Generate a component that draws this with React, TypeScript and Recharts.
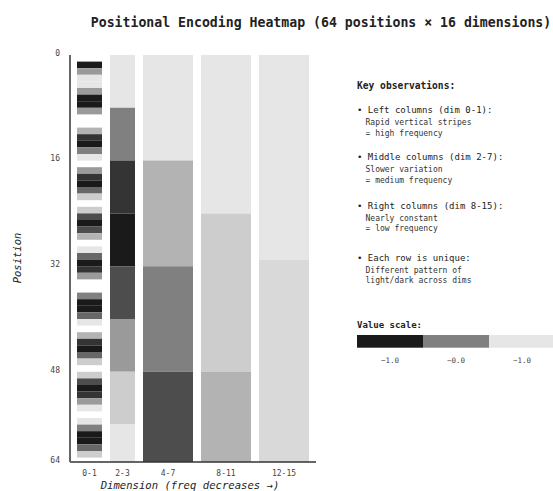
import React from 'react';
import { ComposedChart, XAxis, YAxis, ReferenceArea, Customized } from 'recharts';

const FONT = '"DejaVu Sans Mono", "Liberation Mono", monospace';

// Column categories (dimension groups)
const columnLabels = ['0-1', '2-3', '4-7', '8-11', '12-15'];
const columnDimStart = [0, 2, 4, 8, 12];
const columnDimCount = [2, 2, 4, 4, 4];

// Dim 0-1: one value per position (null = blank/white row)
const dim01Values: (number | null)[] = [
  null, -1, 0.25, 1, 1, 0.25, -1, -1, 0.25, null,
  null, 0.5, -0.75, -1, 0, 1, null, 0.25, -0.75, -1,
  -0.25, 0.75, null, 0.75, -0.5, -1, -0.5, 0.5, null, 1,
  -0.25, -1, -0.75, 0.25, null, null, 0, -1, -1, -0.25,
  1, null, 0.5, -0.75, -1, -0.25, 0.75, null, 0.75, -0.5,
  -1, -0.75, 0.25, 1, null, 1, 0, -1, -1, -0.25,
  0.75, null, null, null,
];

// Other dims: piecewise-constant blocks along position
const dim23Breaks = [0, 8, 16, 24, 32, 40, 48, 56, 64];
const dim23Values = [1, 0, -0.75, -1, -0.5, 0.25, 0.75, 1];
const dim47Breaks = [0, 16, 32, 48, 64];
const dim47Values = [1, 0.5, 0, -0.5];
const dim811Breaks = [0, 24, 48, 64];
const dim811Values = [1, 0.75, 0.5];
const dim1215Breaks = [0, 31, 64];
const dim1215Values = [1, 0.875];

const yTickLabels = [0, 16, 32, 48, 64];
const scaleValues = [-1, 0, 1];
const scaleLabels = ['−1.0', '~0.0', '~1.0'];

const notes: { head: string; lines: string[] }[] = [
  { head: '• Left columns (dim 0-1):', lines: ['Rapid vertical stripes', '= high frequency'] },
  { head: '• Middle columns (dim 2-7):', lines: ['Slower variation', '= medium frequency'] },
  { head: '• Right columns (dim 8-15):', lines: ['Nearly constant', '= low frequency'] },
  { head: '• Each row is unique:', lines: ['Different pattern of', 'light/dark across dims'] },
];

// ---- layout constants (not data) ----
const LEAD = 0.56;
const GAP = 0.64;
const XMAX = 19.68;
const YMAX = 61.67;

const gray = (v: number) => {
  const g = Math.round(128 + v * 102);
  return `rgb(${g},${g},${g})`;
};

const colStart = (c: number) => LEAD + columnDimStart[c] + c * GAP;
const colEnd = (c: number) => colStart(c) + columnDimCount[c];

type Cell = { x1: number; x2: number; y1: number; y2: number; fill: string };
const cells: Cell[] = [];
dim01Values.forEach((v, i) => {
  if (v === null) return;
  cells.push({ x1: colStart(0), x2: colEnd(0), y1: i, y2: i + 1, fill: gray(v) });
});
const blockCols: [number[], number[]][] = [
  [dim23Breaks, dim23Values],
  [dim47Breaks, dim47Values],
  [dim811Breaks, dim811Values],
  [dim1215Breaks, dim1215Values],
];
blockCols.forEach(([br, vals], k) => {
  const c = k + 1;
  vals.forEach((v, j) => {
    cells.push({ x1: colStart(c), x2: colEnd(c), y1: br[j], y2: br[j + 1], fill: gray(v) });
  });
});

const xTicks = columnLabels.map((_, c) => (colStart(c) + colEnd(c)) / 2);
const yTicks = yTickLabels.map((t) => Math.min(t, YMAX));

const Overlay = () => {
  const noteY = [110, 157.3, 205.7, 257.7];
  return (
    <g fontFamily={FONT}>
      <text x={321} y={22} textAnchor="middle" dominantBaseline="central" fontSize={13.2} fontWeight="bold" fill="#222">
        Positional Encoding Heatmap (64 positions × 16 dimensions)
      </text>
      <text
        x={17}
        y={258}
        transform="rotate(-90 17 258)"
        textAnchor="middle"
        dominantBaseline="central"
        fontSize={10.5}
        fontStyle="italic"
        fill="#222"
      >
        Position
      </text>
      <text x={190} y={484.5} textAnchor="middle" dominantBaseline="central" fontSize={10.6} fontStyle="italic" fill="#222">
        Dimension (freq decreases →)
      </text>
      <text x={357} y={85} dominantBaseline="central" fontSize={9.6} fontWeight="bold" fill="#222">
        Key observations:
      </text>
      {notes.map((n, i) => (
        <g key={i}>
          <text x={357} y={noteY[i]} dominantBaseline="central" fontSize={9} fill="#222">
            {n.head}
          </text>
          {n.lines.map((l, j) => (
            <text key={j} x={365.5} y={noteY[i] + 12.3 + j * 10.7} dominantBaseline="central" fontSize={8} fill="#333">
              {l}
            </text>
          ))}
        </g>
      ))}
      <text x={357} y={325} dominantBaseline="central" fontSize={9} fontWeight="bold" fill="#222">
        Value scale:
      </text>
      {scaleValues.map((v, i) => (
        <g key={i}>
          <rect x={357 + i * 66} y={335} width={66} height={12.7} fill={gray(v)} />
          <text x={390 + i * 66} y={360.7} textAnchor="middle" dominantBaseline="central" fontSize={7.5} fill="#444">
            {scaleLabels[i]}
          </text>
        </g>
      ))}
    </g>
  );
};

export default function App() {
  return (
    <div style={{ position: 'absolute', left: 0, top: 0, width: 553, height: 491, background: '#fff' }}>
      <ComposedChart width={553} height={491} margin={{ top: 55, right: 237, bottom: 0, left: 10 }} data={[]}>
        <XAxis
          type="number"
          dataKey="x"
          domain={[0, XMAX]}
          ticks={xTicks}
          interval={0}
          tickFormatter={(_v: number, i: number) => columnLabels[i]}
          tickLine={false}
          axisLine={{ stroke: '#333', strokeWidth: 1.5 }}
          tick={{ fontSize: 8, fill: '#444', fontFamily: FONT }}
          height={29}
          allowDataOverflow
        />
        <YAxis
          type="number"
          dataKey="y"
          reversed
          domain={[0, YMAX]}
          ticks={yTicks}
          interval={0}
          tickFormatter={(_v: number, i: number) => String(yTickLabels[i])}
          tickLine={false}
          tickMargin={4}
          axisLine={{ stroke: '#666', strokeWidth: 2 }}
          tick={{ fontSize: 8, fill: '#444', fontFamily: FONT, dy: -2 }}
          width={60}
          allowDataOverflow
        />
        {cells.map((c, i) => (
          <ReferenceArea
            key={i}
            x1={c.x1}
            x2={c.x2}
            y1={c.y1}
            y2={c.y2}
            fill={c.fill}
            fillOpacity={1}
            stroke="none"
            ifOverflow="hidden"
          />
        ))}
        <Customized component={Overlay} />
      </ComposedChart>
    </div>
  );
}
